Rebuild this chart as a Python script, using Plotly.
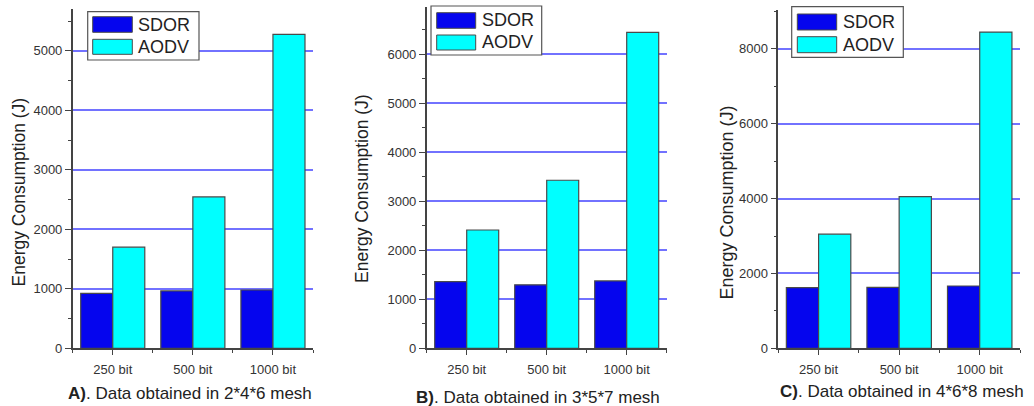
import plotly.graph_objects as go

# ---------------- data ----------------
categories = ["250 bit", "500 bit", "1000 bit"]
cat_pos = [0, 1, 2]
series_names = ["SDOR", "AODV"]

sdor_a = [925, 965, 980]
aodv_a = [1700, 2545, 5280]
sdor_b = [1360, 1295, 1375]
aodv_b = [2415, 3430, 6450]
sdor_c = [1620, 1630, 1665]
aodv_c = [3050, 4055, 8450]

captions = [
    "<b>A)</b>. Data obtained in 2*4*6 mesh",
    "<b>B)</b>. Data obtained in 3*5*7 mesh",
    "<b>C)</b>. Data obtained in 4*6*8 mesh",
]
y_title = "Energy Consumption (J)"

# ---------------- layout helpers ----------------
W, H = 1034, 406
H_EFF = 398  # vertical extent actually seen in the window
FONT = "Arial, Liberation Sans, sans-serif"
C_SDOR = "#0505ee"
C_AODV = "#00ffff"
EDGE = "#4a4a4a"
GRID = "#7272ff"


def px(x):
    return x / W


def py(y):
    return 1 - y / H_EFF


panels = [
    dict(sdor=sdor_a, aodv=aodv_a, x0=72.7, x1=313.0, top=9.3, ymax=5700, dtick=1000, minor=500,
         title_xy=(18.5, 192), cap_xy=(190, 393),
         legend=dict(box=(87.7, 11.7, 199, 60), sw=(92.7, 132.3), rows=((16.7, 32.3), (39.3, 54.3)), tx=136)),
    dict(sdor=sdor_b, aodv=aodv_b, x0=426.7, x1=666.7, top=7.3, ymax=6960, dtick=1000, minor=500,
         title_xy=(362, 189), cap_xy=(538, 397),
         legend=dict(box=(431, 6, 541.7, 55), sw=(436.7, 475.7), rows=((12.7, 28.3), (35, 50)), tx=480)),
    dict(sdor=sdor_c, aodv=aodv_c, x0=778.3, x1=1020.0, top=10.0, ymax=9040, dtick=2000, minor=1000,
         title_xy=(726.5, 203), cap_xy=(902, 391),
         legend=dict(box=(791.7, 6.7, 903.3, 57.3), sw=(797.3, 836.7), rows=((14, 30), (36.7, 52.7)), tx=841)),
]

BOTTOM = 348.3

fig = go.Figure()
shapes = []
annotations = []

for i, p in enumerate(panels):
    sfx = "" if i == 0 else str(i + 1)
    xa, ya = "x" + sfx, "y" + sfx
    for name, vals, col in ((series_names[0], p["sdor"], C_SDOR), (series_names[1], p["aodv"], C_AODV)):
        fig.add_trace(go.Bar(
            x=cat_pos, y=vals, name=name, xaxis=xa, yaxis=ya, showlegend=False,
            marker=dict(color=col, line=dict(color=EDGE, width=1.2)),
        ))

    axis_common = dict(showline=True, linecolor="#444", linewidth=1.5, ticks="outside",
                       tickcolor="#444", tickwidth=1.3, mirror=False,
                       tickfont=dict(family=FONT, size=13, color="#333"))
    fig.layout["xaxis" + sfx] = dict(
        axis_common,
        domain=[px(p["x0"]), px(p["x1"])], anchor=ya, range=[-0.5, 2.5],
        tickvals=cat_pos, ticktext=categories, ticklen=5, showgrid=False, zeroline=False,
        ticklabelstandoff=3,
        minor=dict(ticks="outside", ticklen=3, tickcolor="#444", tickwidth=1.3,
                   tick0=0.5, dtick=1, showgrid=False),
        fixedrange=True,
    )
    fig.layout["yaxis" + sfx] = dict(
        axis_common,
        domain=[py(BOTTOM), py(p["top"])], anchor=xa, range=[0, p["ymax"]],
        tick0=0, dtick=p["dtick"], ticklen=6, showgrid=True, gridcolor=GRID, gridwidth=1.5,
        zeroline=False, tickformat="d",
        minor=dict(ticks="outside", ticklen=3, tickcolor="#444", tickwidth=1.3,
                   tick0=0, dtick=p["minor"], showgrid=False),
        fixedrange=True,
    )

    # y-axis title
    annotations.append(dict(text=y_title, x=px(p["title_xy"][0]), y=py(p["title_xy"][1]),
                            xref="paper", yref="paper", showarrow=False, textangle=-90,
                            xanchor="center", yanchor="middle",
                            font=dict(family=FONT, size=17.5 if i < 2 else 18, color="#222")))
    # caption
    annotations.append(dict(text=captions[i], x=px(p["cap_xy"][0]), y=py(p["cap_xy"][1]),
                            xref="paper", yref="paper", showarrow=False,
                            xanchor="center", yanchor="middle",
                            font=dict(family=FONT, size=17, color="#222")))

    # legend (drawn manually for large swatches)
    lg = p["legend"]
    bx0, by0, bx1, by1 = lg["box"]
    shapes.append(dict(type="rect", xref="paper", yref="paper",
                       x0=px(bx0), x1=px(bx1), y0=py(by1), y1=py(by0),
                       fillcolor="white", line=dict(color="#555", width=1.2), layer="above"))
    for (ry0, ry1), col, name in zip(lg["rows"], (C_SDOR, C_AODV), series_names):
        shapes.append(dict(type="rect", xref="paper", yref="paper",
                           x0=px(lg["sw"][0]), x1=px(lg["sw"][1]), y0=py(ry1), y1=py(ry0),
                           fillcolor=col, line=dict(color=EDGE, width=1), layer="above"))
        annotations.append(dict(text=name, x=px(lg["tx"]), y=py((ry0 + ry1) / 2),
                                xref="paper", yref="paper", showarrow=False,
                                xanchor="left", yanchor="middle",
                                font=dict(family=FONT, size=18, color="#222")))

fig.update_layout(
    width=W, height=H, margin=dict(l=0, r=0, t=0, b=0),
    paper_bgcolor="white", plot_bgcolor="white",
    barmode="group", bargap=0.2, bargroupgap=0,
    shapes=shapes, annotations=annotations, showlegend=False,
)

# remove the default page margin so the figure fills the window exactly
fig.write_html(
    "out.html",
    config={"displayModeBar": False},
    post_script="document.body.style.margin='0';document.documentElement.style.overflow='hidden';",
)
